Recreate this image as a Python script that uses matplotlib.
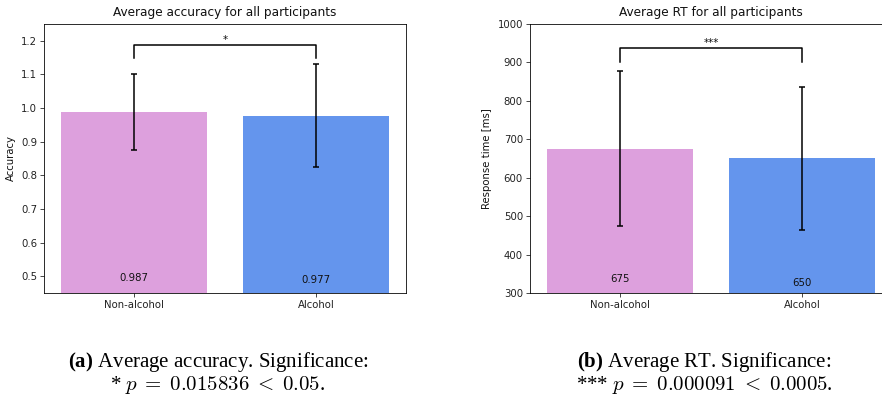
import matplotlib
matplotlib.use("Agg")
import matplotlib.pyplot as plt

groups = ["Non-alcohol", "Alcohol"]
colors = ["plum", "cornflowerblue"]

acc_means = [0.987, 0.977]
acc_err = [0.113, 0.152]
acc_labels = ["0.987", "0.977"]
acc_bracket = (1.147, 1.188)
acc_sig = "*"

rt_means = [675, 650]
rt_err = [202, 185]
rt_labels = ["675", "650"]
rt_bracket = (900, 937)
rt_sig = "***"

S = 0.73
fs = 10 * S

plt.rcParams["font.family"] = "DejaVu Sans"
plt.rcParams["font.size"] = fs
plt.rcParams["axes.linewidth"] = 0.8 * S
plt.rcParams["xtick.major.width"] = 0.8 * S
plt.rcParams["ytick.major.width"] = 0.8 * S
plt.rcParams["xtick.major.size"] = 3.5 * S
plt.rcParams["ytick.major.size"] = 3.5 * S
plt.rcParams["xtick.major.pad"] = 3.5 * S
plt.rcParams["ytick.major.pad"] = 3.5 * S
plt.rcParams["xtick.color"] = "#222222"
plt.rcParams["ytick.color"] = "#222222"

fig = plt.figure(figsize=(8.82, 3.96), dpi=100)

ax1 = fig.add_axes([0.0502, 0.260, 0.410, 0.680])
ax2 = fig.add_axes([0.601, 0.260, 0.410, 0.680])


def draw(ax, means, errs, labels, ylim, yticks, bracket, sig, title, ylabel):
    x = list(range(len(groups)))
    ax.bar(x, means, width=0.8, color=colors)
    ax.errorbar(x, means, yerr=errs, fmt="none", ecolor="black",
                elinewidth=1.5 * S, capsize=3 * S, capthick=1.5 * S)
    for xi, m, lab in zip(x, means, labels):
        ax.text(xi, m / 2, lab, ha="center", va="center", fontsize=fs,
                color="#111111")
    ax.set_xticks(x)
    ax.set_xticklabels(groups)
    ax.set_ylim(*ylim)
    ax.set_yticks(yticks)
    ax.set_xlim(-0.49, 1.49)
    low, high = bracket
    ax.plot([0, 0, 1, 1], [low, high, high, low], color="black",
            lw=1.5 * S)
    ax.text(0.5, high, sig, ha="center", va="bottom", fontsize=fs,
            color="#111111")
    ax.set_title(title, fontsize=fs * 1.2, pad=5.5, color="#111111")
    ax.set_ylabel(ylabel, fontsize=fs, color="#111111")


draw(ax1, acc_means, acc_err, acc_labels, (0.45, 1.25),
     [0.5, 0.6, 0.7, 0.8, 0.9, 1.0, 1.1, 1.2], acc_bracket, acc_sig,
     "Average accuracy for all participants", "Accuracy")
draw(ax2, rt_means, rt_err, rt_labels, (300, 1000),
     [300, 400, 500, 600, 700, 800, 900, 1000], rt_bracket, rt_sig,
     "Average RT for all participants", "Response time [ms]")

plt.rcParams["mathtext.fontset"] = "custom"
plt.rcParams["mathtext.rm"] = "Liberation Serif"
plt.rcParams["mathtext.it"] = "Liberation Serif:italic"
plt.rcParams["mathtext.bf"] = "Liberation Serif:bold"

cap_fs = 15
serif = "Liberation Serif"
y1 = 1 - 367 / 396
y2 = 1 - 390 / 396
fig.text(218 / 882, y1, r"$\mathbf{(a)}$ Average accuracy. Significance:",
         ha="center", va="baseline", fontsize=cap_fs, family=serif,
         math_fontfamily="custom")
fig.text(218 / 882, y2, r"* $p\;=\;0.015836\;<\;0.05$.",
         ha="center", va="baseline", fontsize=cap_fs, family=serif,
         math_fontfamily="cm")
fig.text(704 / 882, y1, r"$\mathbf{(b)}$ Average RT. Significance:",
         ha="center", va="baseline", fontsize=cap_fs, family=serif,
         math_fontfamily="custom")
fig.text(704 / 882, y2, r"*** $p\;=\;0.000091\;<\;0.0005$.",
         ha="center", va="baseline", fontsize=cap_fs, family=serif,
         math_fontfamily="cm")

fig.savefig("out.png", dpi=100)
